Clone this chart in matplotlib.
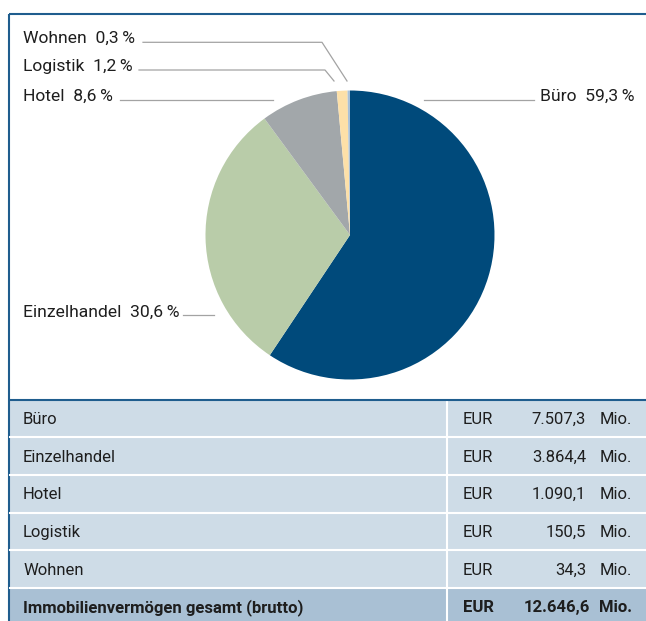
import matplotlib
matplotlib.use("Agg")
import matplotlib.pyplot as plt
from matplotlib.patches import Rectangle

plt.rcParams['font.family'] = ['Roboto', 'DejaVu Sans']

# data
categories = ["Büro", "Einzelhandel", "Hotel", "Logistik", "Wohnen"]
volumes = [7507.3, 3864.4, 1090.1, 150.5, 34.3]   # EUR Mio.
shares = [59.3, 30.6, 8.6, 1.2, 0.3]               # percent, as printed
colors = ["#004a7b", "#b9cca9", "#a2a7aa", "#fde0a8", "#a9c1d9"]
total_label = "Immobilienvermögen gesamt (brutto)"

W, H = 646, 621
BLUE = "#1f5d8e"
GREY = "#a3a3a3"
TXT = "#1e1e1e"


def de(v):  # german number format
    s = "{:,.1f}".format(v)
    return s.replace(",", "X").replace(".", ",").replace("X", ".")


fig = plt.figure(figsize=(W / 100, H / 100), dpi=100)
ax = fig.add_axes([0, 0, 1, 1])
ax.set_xlim(0, W)
ax.set_ylim(H, 0)
ax.axis("off")

# frame
ax.plot([9, W], [14, 14], color=BLUE, lw=1.5, solid_capstyle="butt")
ax.plot([9, 9], [14, H], color=BLUE, lw=1.5, solid_capstyle="butt")

# pie
cx, cy, r = 350, 235, 144.5
pax = fig.add_axes([(cx - r) / W, 1 - (cy + r) / H, 2 * r / W, 2 * r / H])
pax.pie(volumes, colors=colors, startangle=90, counterclock=False,
        radius=1, wedgeprops=dict(linewidth=0))
pax.set_xlim(-1, 1)
pax.set_ylim(-1, 1)

# labels with leader lines (pixel layout)
label_layout = {
    "Wohnen": dict(xy=(23, 43), ha="left", line=[(143, 42.3), (322, 42.3), (347, 81)]),
    "Logistik": dict(xy=(23, 71), ha="left", line=[(139, 70), (325, 70), (334, 81)]),
    "Hotel": dict(xy=(23, 100.5), ha="left", line=[(120, 99.5), (273, 99.5)]),
    "Büro": dict(xy=(634, 100.5), ha="right", line=[(424, 99.8), (534, 99.8)]),
    "Einzelhandel": dict(xy=(23, 316.5), ha="left", line=[(183, 315), (214, 315)]),
}
for cat, pct in zip(categories, shares):
    lay = label_layout[cat]
    txt = "{}  {}\u2009%".format(cat, "{:.1f}".format(pct).replace(".", ","))
    ax.text(lay["xy"][0], lay["xy"][1], txt, ha=lay["ha"], va="baseline",
            fontsize=12.6, color=TXT)
    xs = [p[0] for p in lay["line"]]
    ys = [p[1] for p in lay["line"]]
    ax.plot(xs, ys, color=GREY, lw=0.9)

# table
top, row_h = 399.5, 37.7
rows = [(c, de(v), False) for c, v in zip(categories, volumes)]
rows.append((total_label, de(sum(volumes)), True))
for i, (name, val, bold) in enumerate(rows):
    y0 = top + i * row_h
    bg = "#a9c0d4" if bold else "#cedce7"
    ax.add_patch(Rectangle((10, y0), W - 10, row_h, facecolor=bg, edgecolor="none"))
    if i > 0:
        ax.plot([10, W], [y0, y0], color="white", lw=1.5)
    yc = y0 + row_h / 2 + 5.5
    fw = "bold" if bold else "normal"
    ax.text(23, yc, name, ha="left", va="baseline", fontsize=12, color=TXT, fontweight=fw)
    ax.text(463, yc, "EUR", ha="left", va="baseline", fontsize=12, color=TXT, fontweight=fw)
    ax.text(590 if bold else 586, yc, val, ha="right", va="baseline", fontsize=12, color=TXT, fontweight=fw)
    ax.text(599 if bold else 600, yc, "Mio.", ha="left", va="baseline", fontsize=12, color=TXT, fontweight=fw)

ax.plot([447, 447], [top, H], color="white", lw=1.5)
ax.plot([9, W], [top, top], color=BLUE, lw=1.5, solid_capstyle="butt")

fig.savefig("out.png", dpi=100)
